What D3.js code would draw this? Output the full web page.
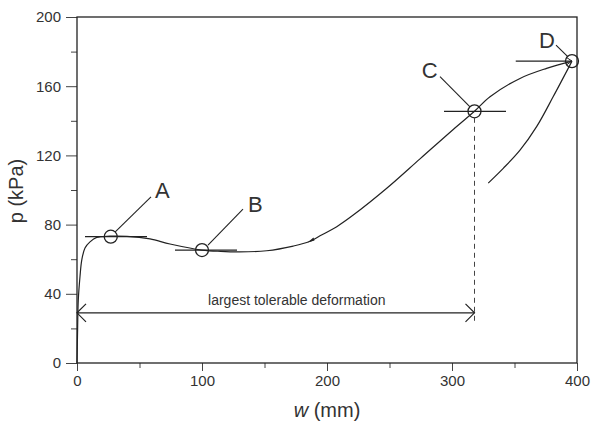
<!DOCTYPE html>
<html><head><meta charset="utf-8">
<script src="https://cdn.jsdelivr.net/npm/d3@7"></script>
<style>body{margin:0;background:#fff}svg text{font-family:"Liberation Sans",Arial,sans-serif;fill:#333}</style>
</head><body><svg id="c" width="592" height="424"></svg>
<script>
// Data (w in mm, p in kPa)
const loadW = [0,0.5,1,2.4,3.8,6.4,10.4,15.8,26.4,40,58.4,74.4,100,115,130,151.7,173,186,194.4,207.8,221,247.8,274.4,301,318,330.4,354.4,375.7,396];
const loadP = [0,20,36,50,59.5,66.5,70,72.6,73.3,73.2,71.7,68.8,65.3,64.5,64.2,64.9,67.6,70.2,73.5,78.8,85.5,101,118,135,145.5,153.9,164.5,170.3,174.5];
const unloadW = [396,381,367.7,354.4,341,329];
const unloadP = [174.5,154,136.6,123,112.5,104];
const pointLabels = ["A","B","C","D"];
const pointW = [27,100,318,396];
const pointP = [73,65.3,145.5,174.5];
const xTicks = [0,100,200,300,400];
const xMinor = [50,150,250,350];
const yTicks = [0,40,80,120,160,200];
const yMinor = [20,60,100,140,180];
const deformW = 318, deformP = 29;

const svg = d3.select("#c");
const x = d3.scaleLinear().domain([0,400]).range([77,577]);
const y = d3.scaleLinear().domain([0,200]).range([363,17]);
const ink = "#222";

// axes
svg.append("g").attr("transform",`translate(0,${y(0)})`)
  .call(d3.axisBottom(x).tickValues(xTicks).tickSize(8).tickPadding(4).tickFormat(d3.format("d")));
svg.append("g").attr("transform",`translate(${x(0)},0)`)
  .call(d3.axisLeft(y).tickValues(yTicks).tickSize(11).tickPadding(5).tickFormat(d3.format("d")));
svg.append("g").attr("transform",`translate(0,${y(0)})`)
  .call(d3.axisBottom(x).tickValues(xMinor).tickSize(5).tickFormat(""));
svg.append("g").attr("transform",`translate(${x(0)},0)`)
  .call(d3.axisLeft(y).tickValues(yMinor).tickSize(6).tickFormat(""));
svg.selectAll(".domain").remove();
svg.selectAll(".tick line").attr("stroke","#444").attr("stroke-width",1);
svg.selectAll(".tick text").attr("font-size",15).attr("fill","#333").style("font-family","Liberation Sans, Arial, sans-serif");
// frame
svg.append("rect").attr("x",x(0)).attr("y",y(200)).attr("width",x(400)-x(0)).attr("height",y(0)-y(200))
  .attr("fill","none").attr("stroke",ink).attr("stroke-width",1.3);

// axis titles
svg.append("text").attr("transform",`translate(23,191) rotate(-90)`).attr("text-anchor","middle")
  .attr("font-size",20).text("p (kPa)");
const xt = svg.append("text").attr("x",327).attr("y",417).attr("text-anchor","middle").attr("font-size",20);
xt.append("tspan").attr("font-style","italic").text("w");
xt.append("tspan").text(" (mm)");

// curves
const line = d3.line().x(d=>x(d[0])).y(d=>y(d[1])).curve(d3.curveCatmullRom.alpha(0.5));
svg.append("path").datum(loadW.map((w,i)=>[w,loadP[i]])).attr("d",line)
  .attr("fill","none").attr("stroke",ink).attr("stroke-width",1.2);
svg.append("path").datum(unloadW.map((w,i)=>[w,unloadP[i]])).attr("d",line)
  .attr("fill","none").attr("stroke",ink).attr("stroke-width",1.2);
// small arrowhead on loading curve
{
  const px=x(186), py=y(70.2);
  svg.append("path").attr("d",`M${px-2},${py+1} L${px+4},${py-4} L${px+5},${py-1} Z`).attr("fill",ink);
}

// tangent lines
const tangents = [[6.4,56,73],[78.4,128,65.2],[293.6,343.2,145.5],[351,396,174.5]];
tangents.forEach(t=>svg.append("line").attr("x1",x(t[0])).attr("x2",x(t[1])).attr("y1",y(t[2])).attr("y2",y(t[2]))
  .attr("stroke",ink).attr("stroke-width",1.2));
// D arrowhead
{
  const px=x(396), py=y(174.5);
  svg.append("path").attr("d",`M${px-6},${py-4} L${px},${py} L${px-6},${py+4}`).attr("fill","none").attr("stroke",ink).attr("stroke-width",1);
}

// circles
pointW.forEach((w,i)=>svg.append("circle").attr("cx",x(w)).attr("cy",y(pointP[i])).attr("r",6.5)
  .attr("fill","none").attr("stroke",ink).attr("stroke-width",1.3));

// leaders and labels
const leaders = [[30.4,75.7,59.2,96],[104.8,68.2,132.8,89],[314.4,148.1,290.4,165.5],[392.8,176.9,383.2,183.8]];
leaders.forEach(l=>svg.append("line").attr("x1",x(l[0])).attr("y1",y(l[1])).attr("x2",x(l[2])).attr("y2",y(l[3]))
  .attr("stroke",ink).attr("stroke-width",1.1));
const labelPos = [[62.4,95.4,"start"],[136.8,87.3,"start"],[288.5,164.7,"end"],[382.4,182,"end"]];
pointLabels.forEach((t,i)=>svg.append("text").attr("x",x(labelPos[i][0])).attr("y",y(labelPos[i][1]))
  .attr("text-anchor",labelPos[i][2]).attr("font-size",22).attr("fill","#222").text(t));

// dashed line from C
svg.append("line").attr("x1",x(deformW)).attr("x2",x(deformW)).attr("y1",y(145.5)+6.5).attr("y2",y(deformP)+10)
  .attr("stroke","#444").attr("stroke-width",1).attr("stroke-dasharray","5,4");
// double arrow
const ay0 = y(deformP);
svg.append("line").attr("x1",x(0)).attr("x2",x(deformW)).attr("y1",ay0).attr("y2",ay0).attr("stroke",ink).attr("stroke-width",1.3);
svg.append("path").attr("d",`M${x(0)+9},${ay0-9} L${x(0)},${ay0} L${x(0)+9},${ay0+9}`).attr("fill","none").attr("stroke",ink).attr("stroke-width",1.2);
svg.append("path").attr("d",`M${x(deformW)-9},${ay0-9} L${x(deformW)},${ay0} L${x(deformW)-9},${ay0+9}`).attr("fill","none").attr("stroke",ink).attr("stroke-width",1.2);
svg.append("text").attr("x",(x(0)+x(deformW))/2+21).attr("y",ay0-8).attr("text-anchor","middle").attr("font-size",14).text("largest tolerable deformation");
</script></body></html>
